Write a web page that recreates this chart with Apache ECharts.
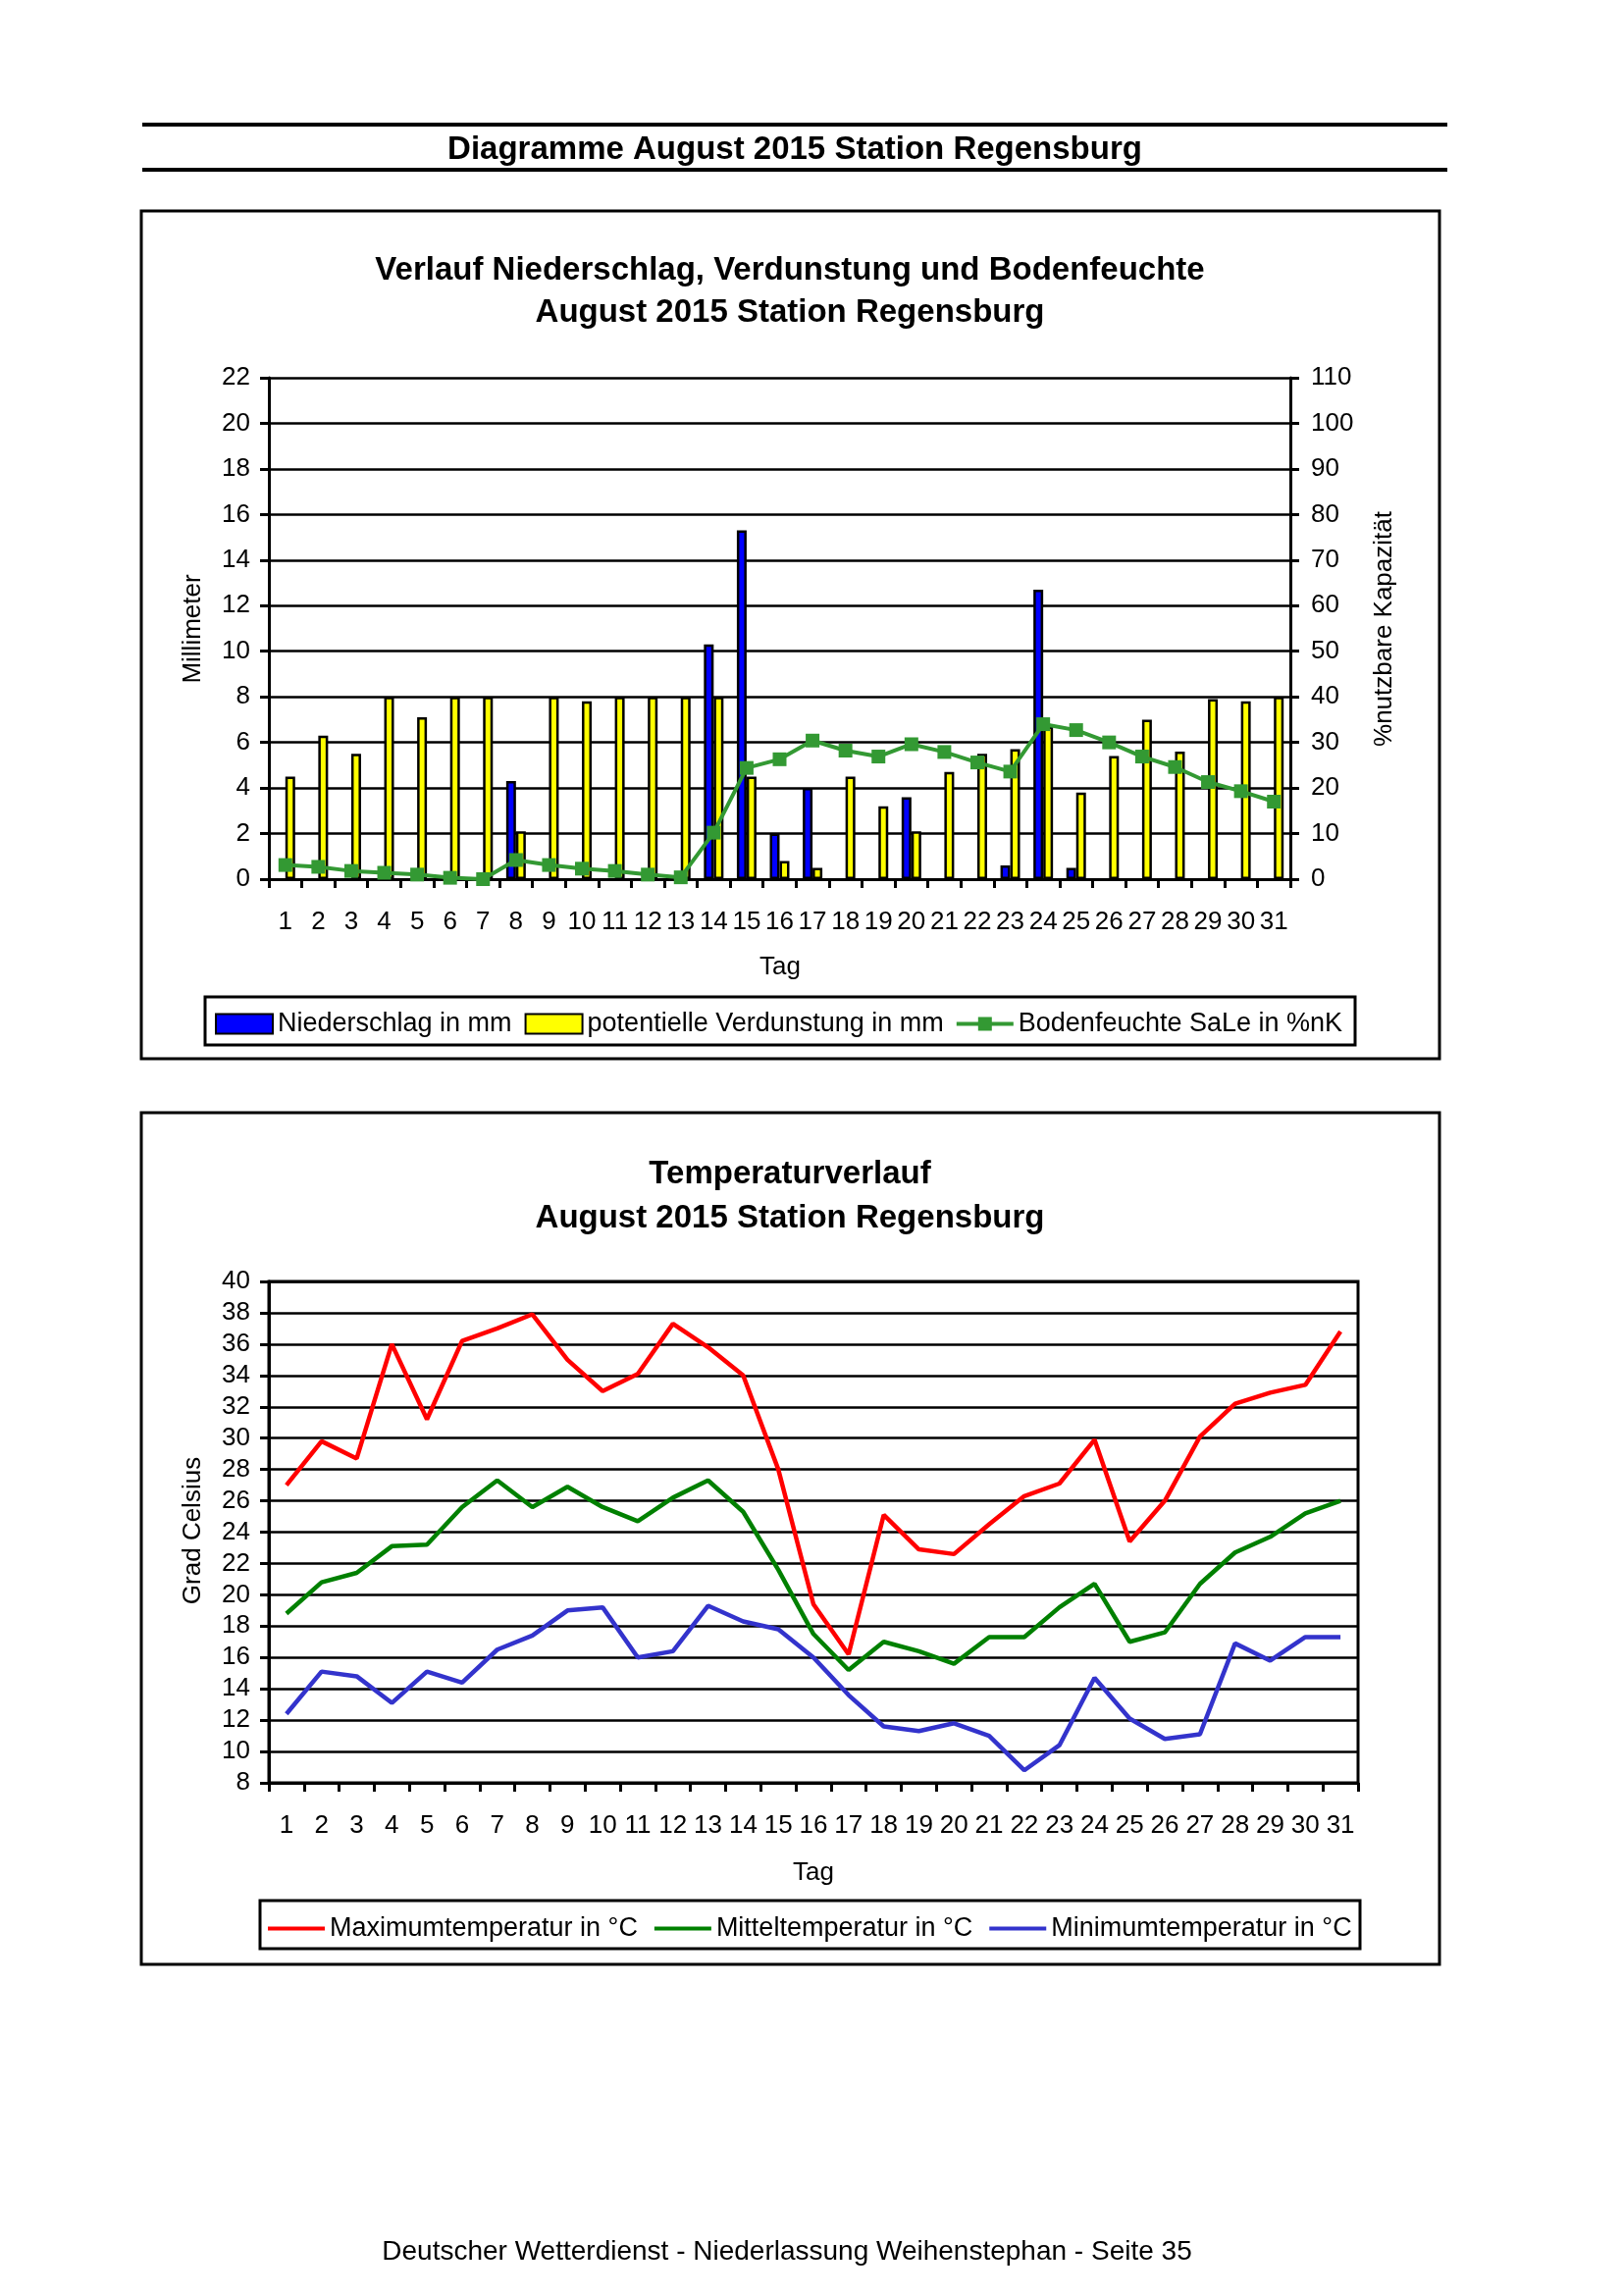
<!DOCTYPE html>
<html>
<head>
<meta charset="utf-8">
<script src="https://cdn.jsdelivr.net/npm/echarts@6/dist/echarts.min.js"></script>
<style>
html,body{margin:0;padding:0;background:#fff;}
#c{width:1653px;height:2340px;}
</style>
</head>
<body>
<div id="c"></div>
<script>
var days = ['1','2','3','4','5','6','7','8','9','10','11','12','13','14','15','16','17','18','19','20','21','22','23','24','25','26','27','28','29','30','31'];
var niederschlag = [0,0,0,0,0,0,0,4.3,0,0,0,0,0,10.3,15.3,2.0,4.0,0,0,3.6,0,0,0.6,12.7,0.5,0,0,0,0,0,0];
var verdunstung = [4.5,6.3,5.5,8.0,7.1,8.0,8.0,2.1,8.0,7.8,8.0,8.0,8.0,8.0,4.5,0.8,0.5,4.5,3.2,2.1,4.7,5.5,5.7,6.7,3.8,5.4,7.0,5.6,7.9,7.8,8.0];
var bodenfeuchte = [3.1,2.7,1.8,1.4,1.0,0.3,0.0,4.2,3.1,2.3,1.8,1.0,0.4,10.2,24.4,26.3,30.4,28.2,26.9,29.6,27.9,25.6,23.6,34.0,32.7,30.0,26.9,24.6,21.3,19.3,17.0];
var tmax = [27.0,29.8,28.7,36.0,31.2,36.2,37.0,37.9,35.0,33.0,34.1,37.3,35.8,34.0,28.0,19.4,16.2,25.1,22.9,22.6,24.5,26.3,27.1,29.9,23.4,26.0,30.1,32.2,32.9,33.4,36.8];
var tmit = [18.8,20.8,21.4,23.1,23.2,25.6,27.3,25.6,26.9,25.6,24.7,26.2,27.3,25.3,21.6,17.5,15.2,17.0,16.4,15.6,17.3,17.3,19.2,20.7,17.0,17.6,20.7,22.7,23.7,25.2,26.0];
var tmin = [12.4,15.1,14.8,13.1,15.1,14.4,16.5,17.4,19.0,19.2,16.0,16.4,19.3,18.3,17.8,16.0,13.6,11.6,11.3,11.8,11.0,8.8,10.4,14.7,12.1,10.8,11.1,16.9,15.8,17.3,17.3];

var FONT = '"Liberation Sans", Arial, sans-serif';
var chart = echarts.init(document.getElementById('c'), null, {renderer:'canvas'});

function txt(x, y, s, size, bold, rot) {
  return {type:'text', x:x, y:y, rotation: rot || 0, style:{text:s, fill:'#000', font:(bold?'bold ':'')+size+'px '+FONT, textAlign:'center', textVerticalAlign:'middle'}};
}
function rect(x, y, w, h, lw) {
  return {type:'rect', shape:{x:x,y:y,width:w,height:h}, style:{fill:null, stroke:'#000', lineWidth:lw}};
}
function hline(x1, x2, y, lw) {
  return {type:'line', shape:{x1:x1,y1:y,x2:x2,y2:y}, style:{stroke:'#000', lineWidth:lw}};
}

var axisLineS = {show:true, lineStyle:{color:'#000', width:3}};
var tickS = {show:true, inside:false, length:9, lineStyle:{color:'#000', width:3}};
var splitS = {show:true, lineStyle:{color:'#000', width:2.5}};
var labS = function(m){ return {color:'#000', fontSize:26, fontFamily:FONT, margin:m}; };

var lineMarkerIcon = 'path://M0,5 L58,5 L58,9 L0,9 Z M22,0 L36,0 L36,14 L22,14 Z';

var option = {
  animation:false,
  backgroundColor:'#fff',
  textStyle:{fontFamily:FONT},
  graphic:[
    hline(145,1475,127,4),
    hline(145,1475,173,4),
    txt(810,153,'Diagramme August 2015 Station Regensburg',33,true),
    rect(144,215,1323,864,3),
    txt(805,276,'Verlauf Niederschlag, Verdunstung und Bodenfeuchte',33,true),
    txt(805,319,'August 2015 Station Regensburg',33,true),
    txt(197,641,'Millimeter',26,false,Math.PI/2),
    txt(1411,641,'%nutzbare Kapazität',26,false,Math.PI/2),
    txt(795,986,'Tag',26,false),
    rect(209,1016,1172,49,3),
    rect(144,1134,1323,868,3),
    txt(805,1197,'Temperaturverlauf',33,true),
    txt(805,1242,'August 2015 Station Regensburg',33,true),
    txt(197,1560,'Grad Celsius',26,false,Math.PI/2),
    txt(829,1909,'Tag',26,false),
    rect(265,1937,1121,49,3),
    txt(802,2295,'Deutscher Wetterdienst - Niederlassung Weihenstephan - Seite 35',28,false)
  ],
  grid:[
    {left:274, top:385, width:1041, height:511, show:false},
    {left:274, top:1306, width:1110, height:511, show:true, borderColor:'#000', borderWidth:3, backgroundColor:'transparent'}
  ],
  legend:[
    {left:219, top:1030, itemWidth:58, itemHeight:20, itemGap:13, padding:0,
     textStyle:{color:'#000', fontSize:27, fontFamily:FONT},
     data:[{name:'Niederschlag in mm', icon:'rect'},{name:'potentielle Verdunstung in mm', icon:'rect'},{name:'Bodenfeuchte SaLe in %nK', icon:lineMarkerIcon}]},
    {left:273, top:1952, itemWidth:58, itemHeight:4, itemGap:17, padding:0,
     textStyle:{color:'#000', fontSize:27, fontFamily:FONT},
     data:[{name:'Maximumtemperatur in °C', icon:'rect'},{name:'Mitteltemperatur in °C', icon:'rect'},{name:'Minimumtemperatur in °C', icon:'rect'}]}
  ],
  xAxis:[
    {type:'category', gridIndex:0, data:days, boundaryGap:true, axisLine:axisLineS, axisTick:tickS, axisLabel:Object.assign(labS(31),{interval:0}), splitLine:{show:false}},
    {type:'category', gridIndex:1, data:days, boundaryGap:true, axisLine:axisLineS, axisTick:tickS, axisLabel:Object.assign(labS(31),{interval:0}), splitLine:{show:false}}
  ],
  yAxis:[
    {type:'value', gridIndex:0, min:0, max:22, interval:2, axisLine:axisLineS, axisTick:tickS, axisLabel:labS(19), splitLine:splitS},
    {type:'value', gridIndex:0, position:'right', min:0, max:110, interval:10, axisLine:axisLineS, axisTick:tickS, axisLabel:labS(21), splitLine:{show:false}},
    {type:'value', gridIndex:1, min:8, max:40, interval:2, axisLine:axisLineS, axisTick:tickS, axisLabel:labS(19), splitLine:splitS}
  ],
  series:[
    {name:'Niederschlag in mm', type:'bar', xAxisIndex:0, yAxisIndex:0, barWidth:10, barGap:'0%',
     itemStyle:{color:'#0000FF', borderColor:'#000', borderWidth:2.5},
     data:niederschlag.map(function(v){return v===0?null:v;})},
    {name:'potentielle Verdunstung in mm', type:'bar', xAxisIndex:0, yAxisIndex:0, barWidth:10, barGap:'0%',
     itemStyle:{color:'#FFFF00', borderColor:'#000', borderWidth:2.5},
     data:verdunstung.map(function(v){return v===0?null:v;})},
    {name:'Bodenfeuchte SaLe in %nK', type:'line', xAxisIndex:0, yAxisIndex:1, symbol:'rect', symbolSize:14,
     lineStyle:{color:'#339933', width:4}, itemStyle:{color:'#339933'}, z:5,
     data:bodenfeuchte},
    {name:'Maximumtemperatur in °C', type:'line', xAxisIndex:1, yAxisIndex:2, symbol:'none',
     lineStyle:{color:'#FF0000', width:4.5}, itemStyle:{color:'#FF0000'}, data:tmax},
    {name:'Mitteltemperatur in °C', type:'line', xAxisIndex:1, yAxisIndex:2, symbol:'none',
     lineStyle:{color:'#008000', width:4.5}, itemStyle:{color:'#008000'}, data:tmit},
    {name:'Minimumtemperatur in °C', type:'line', xAxisIndex:1, yAxisIndex:2, symbol:'none',
     lineStyle:{color:'#3333CC', width:4.5}, itemStyle:{color:'#3333CC'}, data:tmin}
  ]
};
chart.setOption(option);
</script>
</body>
</html>
